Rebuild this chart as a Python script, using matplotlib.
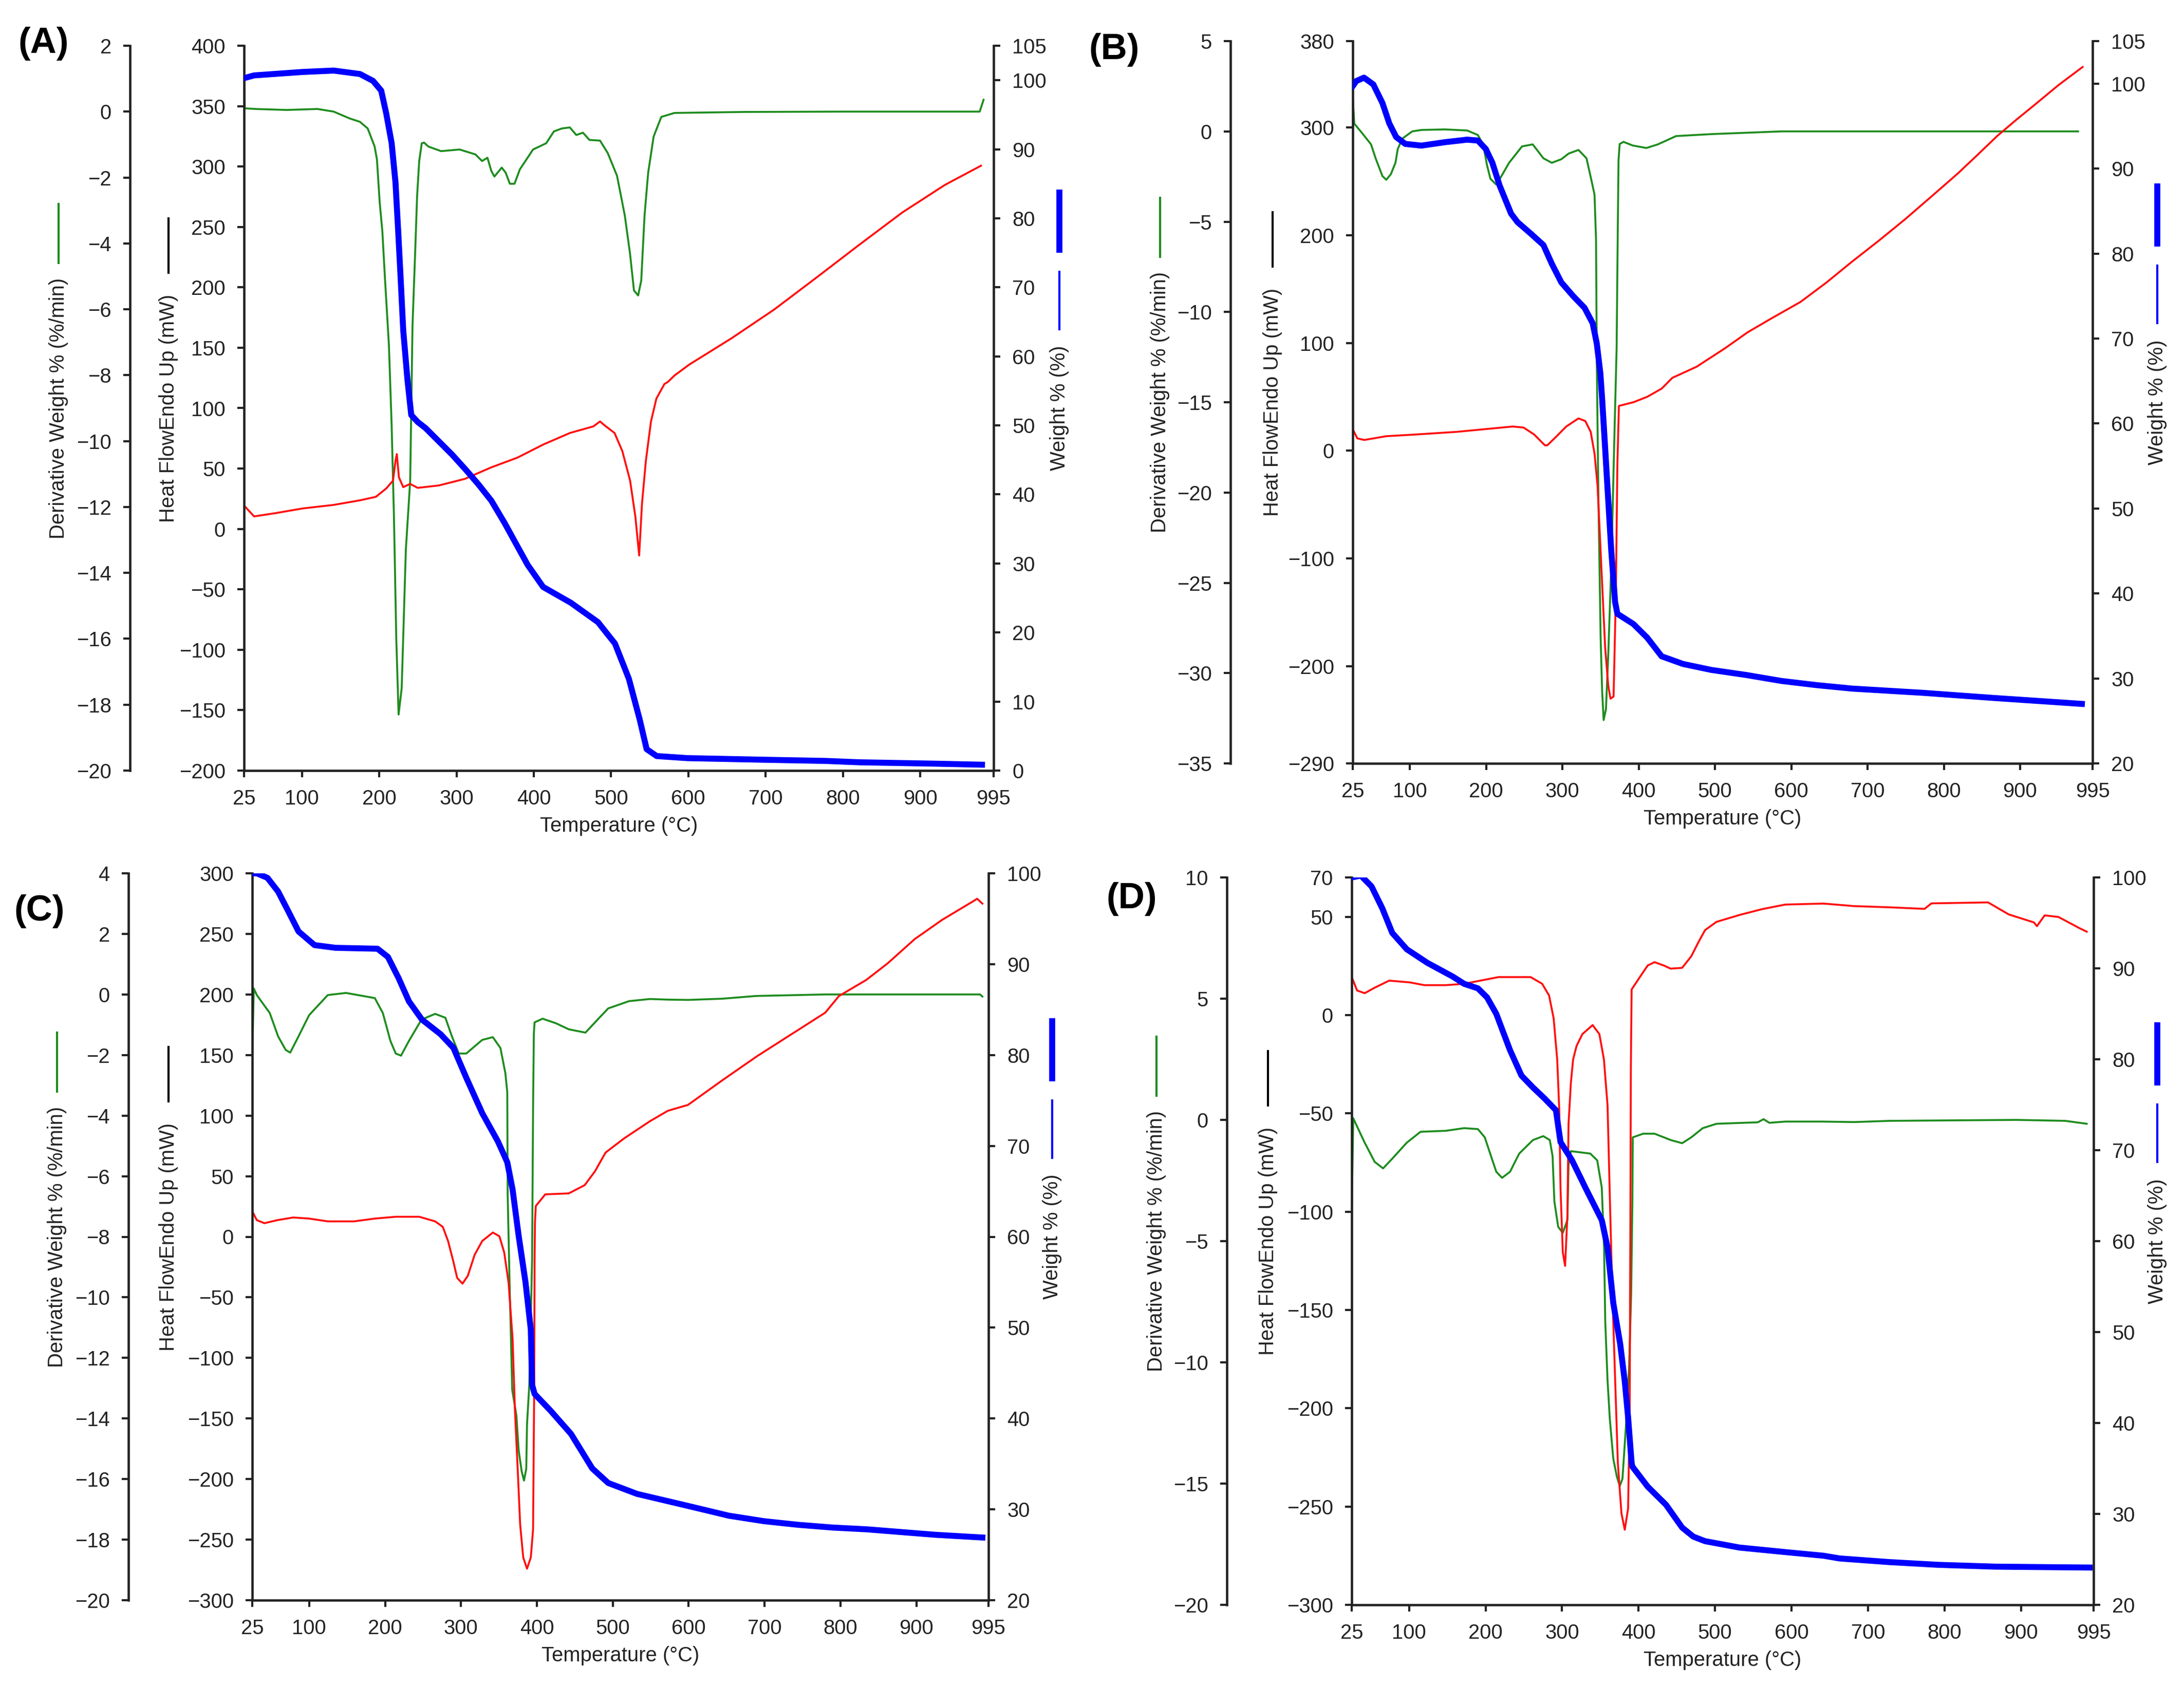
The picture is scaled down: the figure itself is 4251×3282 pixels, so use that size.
import matplotlib
matplotlib.use("Agg")
import matplotlib.pyplot as plt
from matplotlib.lines import Line2D

plt.rcParams['font.family'] = ['Liberation Sans', 'DejaVu Sans']

GREEN = '#1e8c1e'
RED = '#ff1010'
BLUE = '#0000ff'
AXIS = '#222222'

temp_ticks = [25, 100, 200, 300, 400, 500, 600, 700, 800, 900, 995]

# ---- panel A ----
a_deriv_t = [25, 26, 40, 80, 120, 141, 162, 175, 185, 194, 197, 200.5, 204, 207.5, 212.5, 216, 219, 222,
             225, 229, 234.4, 240, 243, 246.5, 249, 251.7, 255, 258, 263.5, 280, 304, 324.5, 333, 340,
             345, 349, 358.5, 363.5, 369, 375, 382, 399, 416, 426, 436.5, 446.6, 455, 463.6, 472,
             485.7, 495.7, 507.7, 517.7, 524.6, 529.6, 535, 539, 543.3, 548, 555, 565, 582, 673, 800,
             977, 982]
a_deriv = [1.4, 0.1, 0.08, 0.05, 0.08, 0.0, -0.21, -0.31, -0.51, -1.06, -1.45, -2.74, -3.64, -5.12, -7.1,
           -9.5, -12.3, -16.0, -18.3, -17.5, -13.3, -11.2, -6.5, -4.24, -2.55, -1.5, -0.96, -0.94, -1.06,
           -1.2, -1.15, -1.3, -1.5, -1.4, -1.8, -1.97, -1.7, -1.85, -2.19, -2.19, -1.75, -1.15, -0.96,
           -0.6, -0.51, -0.48, -0.71, -0.64, -0.86, -0.88, -1.26, -1.95, -3.15, -4.33, -5.43, -5.58,
           -5.13, -3.15, -1.85, -0.76, -0.16, -0.04, -0.01, 0.0, 0.0, 0.36]
a_heat_t = [25, 38, 65, 101, 141, 175, 195.6, 209, 217.8, 221, 222.7, 225.4, 231, 240, 249.7, 277, 311,
            345, 378.7, 412.6, 446.6, 477, 485.7, 490.7, 504.5, 514.5, 524.6, 531.4, 536.3, 540, 545,
            551.6, 558.6, 569, 573.5, 582, 601, 656, 711, 766, 821.5, 876.7, 932, 978.7]
a_heat = [19.4, 10.4, 13, 17, 19.9, 23.7, 26.6, 33.5, 40, 56.4, 62, 42.8, 34.6, 37.3, 34, 36, 41.5, 51,
          59, 70, 79.4, 84.9, 89, 86.2, 79.4, 64.5, 40, 10.2, -22, 21, 56.4, 89, 107.9, 120, 121.7, 127,
          136, 157.9, 181.6, 208.2, 235.4, 261.9, 284.8, 300.7]
a_wt_t = [25, 38, 101, 141, 175, 192, 202.5, 209, 216, 221, 224.5, 227.8, 231, 236.4, 241.4, 249.7, 260,
          277, 294, 311, 328, 345, 362, 378.7, 392, 412, 448, 483, 505, 523, 537, 546, 559, 599, 706,
          777, 821, 919, 980]
a_wt = [100.3, 100.7, 101.2, 101.4, 100.9, 99.9, 98.5, 95.2, 90.9, 85.2, 78.1, 71, 63.8, 56.7, 51.5, 50.5,
        49.6, 47.7, 45.8, 43.7, 41.5, 39.1, 35.9, 32.5, 29.8, 26.6, 24.3, 21.5, 18.4, 13.3, 7.4, 3.1, 2.1,
        1.8, 1.55, 1.4, 1.2, 1.0, 0.85]

# ---- panel B ----
b_deriv_t = [25, 27, 37, 49, 55, 64, 69, 75, 81, 84, 90, 103, 115, 146, 175, 189, 196, 201, 205.5, 213,
             218, 230, 247, 261, 275, 286, 298.6, 308, 321, 331.5, 337.5, 342, 344, 345, 347, 350, 352,
             354, 357, 360, 364, 368, 371, 372.5, 373.5, 375, 380, 392, 410, 425, 449, 496, 587, 976]
b_deriv = [1.96, 0.43, -0.08, -0.72, -1.49, -2.48, -2.68, -2.37, -1.74, -0.98, -0.4, 0.0, 0.08, 0.11,
           0.05, -0.2, -0.72, -1.86, -2.62, -2.94, -2.62, -1.74, -0.83, -0.72, -1.49, -1.74, -1.54, -1.23,
           -1.03, -1.49, -2.62, -3.5, -6.0, -12.8, -20, -28, -31, -32.6, -32, -29, -24, -17, -12, -5.5,
           -1.6, -0.7, -0.58, -0.78, -0.92, -0.72, -0.26, -0.15, 0.0, 0.0]
b_heat_t = [25, 31, 40, 69, 106, 161, 198, 235, 249, 263, 277, 280, 291, 305, 321, 330, 337, 342, 346,
            351, 356, 360, 363, 367, 370, 372, 374, 393, 411, 430, 444, 476, 513, 543, 577, 612, 646,
            680, 715, 749, 784, 818, 845, 870, 895, 921, 950, 982]
b_heat = [20, 11.5, 10, 13.5, 15, 17.5, 20, 22.5, 21.5, 15, 5, 5, 12.5, 22.5, 30, 27.5, 17.5, -2.5, -32.6,
          -108, -183, -218, -230, -228, -133, -12.5, 41.6, 45, 50, 57.6, 67.6, 78, 95, 110, 124, 138,
          156, 175.6, 195, 214.6, 236, 257, 275, 292, 307, 322, 339, 356]
b_wt_t = [25, 29.7, 39.8, 52, 64, 73, 82, 94, 115, 145.6, 175, 189, 199.5, 208, 217.6, 232.6, 241, 259,
          275, 286, 298.5, 314, 329, 339.6, 345, 349.7, 352, 356, 360, 364, 369, 372, 393, 411, 430, 458,
          495, 541, 587, 634, 680, 773, 865, 981]
b_wt = [99.7, 100.3, 100.7, 99.9, 97.7, 95.3, 93.7, 92.9, 92.7, 93.1, 93.4, 93.3, 92.3, 90.7, 88, 84.7,
        83.7, 82.3, 81, 78.8, 76.6, 75, 73.6, 71.8, 69.4, 65.9, 62.9, 57, 51, 45, 39, 37.6, 36.4, 34.8,
        32.6, 31.7, 31, 30.4, 29.7, 29.2, 28.8, 28.3, 27.7, 27]

# ---- panel C ----
c_deriv_t = [25, 27, 31, 48, 59, 69, 75, 83, 100, 124.5, 148.5, 186.5, 197, 207, 214, 221, 231.5, 248,
             266, 279.5, 288, 297, 307, 328, 342, 352, 358.5, 361, 361.5, 364, 367.5, 373, 376, 380, 383,
             386, 387, 390, 393.7, 395, 396, 397, 407.5, 425, 442, 464, 480, 494, 521.5, 549, 572.6, 599,
             644, 689, 780, 984, 987]
c_deriv = [-2.1, 0.2, -0.02, -0.61, -1.38, -1.83, -1.92, -1.53, -0.68, -0.02, 0.05, -0.12, -0.61, -1.53,
           -1.95, -2.02, -1.53, -0.83, -0.64, -0.77, -1.38, -1.95, -1.95, -1.5, -1.41, -1.77, -2.6, -3.23,
           -6.6, -9.5, -13.05, -13.9, -15.05, -15.75, -16.05, -15.66, -14.2, -12.9, -8.75, -3.75, -1.3,
           -0.92, -0.8, -0.95, -1.15, -1.26, -0.83, -0.46, -0.22, -0.15, -0.17, -0.18, -0.14, -0.05, 0.0,
           0.0, -0.07]
c_heat_t = [25, 31, 41, 58, 79, 100, 124.5, 159, 186.5, 214, 245, 266, 276, 283, 290, 295, 302, 309, 318,
            328, 342, 350.6, 357, 362.7, 368, 371, 375, 378, 382, 387, 392, 395, 396.5, 397, 397.5,
            398.6, 411, 442, 463, 476.5, 490.5, 514.5, 549, 572.6, 599, 644, 690, 735, 780, 798, 834,
            862, 898, 934, 975, 980, 987]
c_heat = [21, 13.7, 11.2, 13.7, 15.9, 15, 12.7, 12.7, 15, 16.5, 16.5, 12.7, 8.2, -3.5, -20.6, -34, -38.7,
          -32.2, -14.9, -3.5, 3.5, 0.4, -13, -38, -84.2, -141.8, -195.6, -237.7, -264.7, -274, -264.7,
          -241.6, -122.4, -20, 12, 25.4, 35, 35.8, 42.6, 54, 69.5, 81, 95.4, 104, 108.8, 129, 149, 167,
          185, 198.7, 212, 225.6, 245.8, 261.6, 277, 279, 275]
c_wt_t = [25, 31, 45, 59, 72, 86, 107, 134.7, 190, 203.7, 217.6, 231.5, 248.6, 273, 290, 307, 328, 348.6,
          361, 368, 376, 385, 392, 393.7, 397, 417.6, 445, 473, 494, 532, 572.6, 608, 653, 699, 744, 789,
          835, 880, 925, 987]
c_wt = [100, 100, 99.5, 98, 95.9, 93.6, 92.1, 91.8, 91.7, 90.8, 88.5, 85.9, 83.9, 82.3, 80.8, 77.5, 73.6,
        70.5, 68.2, 65.2, 60.1, 55, 49.8, 43.7, 42.7, 40.9, 38.3, 34.5, 32.9, 31.7, 30.9, 30.2, 29.3,
        28.7, 28.3, 28, 27.8, 27.5, 27.2, 26.9]

# ---- panel D ----
d_deriv_t = [25, 27, 32, 42, 55, 66, 78, 97, 115, 148, 172, 190, 199, 205, 214, 221.6, 232, 244, 262,
             275.5, 284, 287.6, 290, 295, 301, 307, 308.5, 311.6, 322, 337, 346, 352, 355, 356.5, 359.5,
             362.5, 367, 371.6, 375.5, 379, 383.5, 387.7, 390.4, 392, 392.5, 406, 421, 442, 457, 469, 484,
             502, 556, 563.5, 571, 592, 640, 682, 728, 894, 958, 986]
d_deriv = [-3.9, 0.07, -0.27, -0.94, -1.73, -2.0, -1.6, -0.94, -0.49, -0.45, -0.34, -0.38, -0.72, -1.29,
           -2.14, -2.39, -2.14, -1.39, -0.83, -0.67, -0.83, -1.49, -3.37, -4.41, -4.66, -4.13, -1.86,
           -1.29, -1.33, -1.39, -1.67, -2.8, -5.27, -8.3, -10.75, -12.35, -13.97, -14.7, -15.1, -14.8,
           -12.65, -10.2, -7.16, -3.37, -0.72, -0.57, -0.57, -0.83, -0.96, -0.72, -0.34, -0.16, -0.1,
           0.03, -0.12, -0.07, -0.07, -0.09, -0.04, 0.0, -0.04, -0.16]
d_heat_t = [25, 32, 42, 55, 74, 101, 120, 148, 172, 217, 259, 274, 283, 289, 293.7, 296.4, 298, 301, 304,
            307, 308.5, 311.6, 314.5, 319, 326.6, 340, 348.8, 354.8, 359.5, 362.5, 365.6, 368.5, 373,
            377.7, 382, 386.4, 388.5, 389.5, 390, 391, 400, 412, 421, 433, 442, 457, 469, 478, 487, 502,
            532, 562, 592, 642, 682, 728, 774, 783, 857, 884, 917, 921, 931, 949, 976, 986]
d_heat = [19.4, 12.5, 11.1, 13.9, 17.5, 16.6, 15.2, 15.2, 15.9, 19.3, 19.3, 15.9, 10, -1.6, -22.6, -48.4,
          -88, -120.6, -127.6, -102, -55.3, -34.3, -22.6, -15.7, -9.7, -5.1, -9.7, -22.6, -46, -92.5,
          -139, -174, -228, -253.5, -261.8, -251, -200, -90, -27, 13, 18.3, 25.2, 26.9, 25.2, 23.6, 24,
          29.9, 36.8, 43.2, 47.4, 50.9, 53.9, 56.2, 56.7, 55.4, 54.8, 54, 56.8, 57.3, 51.2, 47.1, 45.2,
          50.7, 49.9, 44.3, 42.4]
d_wt_t = [25, 37, 51, 65, 78, 97, 124, 157, 172, 190, 202, 214, 232, 247, 262, 277, 292, 298, 313, 331,
          352, 359.5, 367, 376, 382, 386.4, 391, 392, 412, 436, 457, 471.7, 487, 532, 592, 642, 663, 728,
          792, 866, 990]
d_wt = [100, 100.2, 99, 96.6, 93.9, 92.1, 90.6, 89.1, 88.3, 87.8, 86.8, 85, 81, 78.2, 76.9, 75.7, 74.4,
        70.9, 68.9, 65.8, 62.3, 59.3, 53.2, 48.7, 44.6, 40.6, 35.6, 35.2, 33, 31, 28.5, 27.5, 27, 26.3,
        25.8, 25.4, 25.1, 24.7, 24.4, 24.2, 24.1]

# axis ticks
a_heat_ticks = list(range(-200, 401, 50))
a_deriv_ticks = list(range(-20, 3, 2))
a_wt_ticks = list(range(0, 101, 10)) + [105]
b_heat_ticks = [-290, -200, -100, 0, 100, 200, 300, 380]
b_deriv_ticks = list(range(-35, 6, 5))
b_wt_ticks = list(range(20, 101, 10)) + [105]
c_heat_ticks = list(range(-300, 301, 50))
c_deriv_ticks = list(range(-20, 5, 2))
c_wt_ticks = list(range(20, 101, 10))
d_heat_ticks = list(range(-300, 51, 50)) + [70]
d_deriv_ticks = list(range(-20, 11, 5))
d_wt_ticks = list(range(20, 101, 10))

W, H = 4251, 3282
fig = plt.figure(figsize=(W / 300, H / 300), dpi=300)

panels = [
    dict(tag='(A)', tag_xy=(85, 85), box=(475, 89, 1934, 1500), dspine=253, labx=(114, 328, 2062),
         deriv=(a_deriv_t, a_deriv), heat=(a_heat_t, a_heat), wt=(a_wt_t, a_wt),
         hlim=(-200, 400), dlim=(-20, 2), wlim=(0, 105),
         hticks=a_heat_ticks, dticks=a_deriv_ticks, wticks=a_wt_ticks),
    dict(tag='(B)', tag_xy=(2169, 97), box=(2633, 80, 4073, 1486), dspine=2395, labx=(2258, 2477, 4199),
         deriv=(b_deriv_t, b_deriv), heat=(b_heat_t, b_heat), wt=(b_wt_t, b_wt),
         hlim=(-290, 380), dlim=(-35, 5), wlim=(20, 105),
         hticks=b_heat_ticks, dticks=b_deriv_ticks, wticks=b_wt_ticks),
    dict(tag='(C)', tag_xy=(77, 1774), box=(491, 1700, 1924, 3115), dspine=250, labx=(111, 328, 2048),
         deriv=(c_deriv_t, c_deriv), heat=(c_heat_t, c_heat), wt=(c_wt_t, c_wt),
         hlim=(-300, 300), dlim=(-20, 4), wlim=(20, 100),
         hticks=c_heat_ticks, dticks=c_deriv_ticks, wticks=c_wt_ticks),
    dict(tag='(D)', tag_xy=(2203, 1750), box=(2631, 1708, 4075, 3124), dspine=2388, labx=(2251, 2468, 4199),
         deriv=(d_deriv_t, d_deriv), heat=(d_heat_t, d_heat), wt=(d_wt_t, d_wt),
         hlim=(-300, 70), dlim=(-20, 10), wlim=(20, 100),
         hticks=d_heat_ticks, dticks=d_deriv_ticks, wticks=d_wt_ticks),
]

FS = 9.6


def fx(x):
    return x / W


def fy(y):
    return 1 - y / H


def style_ticks(a, axis):
    a.tick_params(axis=axis, direction='out', length=3.2, width=1.0, pad=5.5,
                  labelsize=FS, colors=AXIS)


def vseg(x, y_a, y_b, color, lw):
    fig.add_artist(Line2D([fx(x), fx(x)], [fy(y_a), fy(y_b)], color=color, lw=lw,
                          solid_capstyle='butt'))


def draw_panel(p):
    x0, y0, x1, y1 = p['box']
    ax = fig.add_axes([fx(x0), fy(y1), (x1 - x0) / W, (y1 - y0) / H])
    ax_d = ax.twinx()
    ax_w = ax.twinx()
    ax.set_zorder(2)
    ax_d.set_zorder(1)
    ax_w.set_zorder(3)
    ax.patch.set_visible(False)

    ax.plot(*p['heat'], color=RED, lw=0.9)
    ax_d.plot(*p['deriv'], color=GREEN, lw=0.9)
    ax_w.plot(*p['wt'], color=BLUE, lw=2.8)

    ax.set_xlim(25, 995)
    ax.set_xticks(temp_ticks)
    ax.set_ylim(*p['hlim'])
    ax.set_yticks(p['hticks'])
    ax_d.set_ylim(*p['dlim'])
    ax_d.set_yticks(p['dticks'])
    ax_w.set_ylim(*p['wlim'])
    ax_w.set_yticks(p['wticks'])

    for s in ('top', 'right'):
        ax.spines[s].set_visible(False)
    for s in ('top', 'right', 'bottom'):
        ax_d.spines[s].set_visible(False)
    for s in ('top', 'left', 'bottom'):
        ax_w.spines[s].set_visible(False)
    ax_d.yaxis.tick_left()
    ax_d.spines['left'].set_visible(True)
    ax_d.spines['left'].set_position(('axes', (p['dspine'] - x0) / (x1 - x0)))
    for a in (ax, ax_d, ax_w):
        for s in a.spines.values():
            s.set_linewidth(1.1)
            s.set_color(AXIS)
    style_ticks(ax, 'both')
    style_ticks(ax_d, 'y')
    style_ticks(ax_w, 'y')

    # axis titles with their little series keys
    yc = (y0 + y1) / 2
    lx_d, lx_h, lx_w = p['labx']
    fig.text(fx(lx_d), fy(yc), 'Derivative Weight % (%/min)', rotation=90, ha='center', va='center',
             fontsize=FS, color=AXIS)
    fig.text(fx(lx_h), fy(yc), 'Heat FlowEndo Up (mW)', rotation=90, ha='center', va='center',
             fontsize=FS, color=AXIS)
    fig.text(fx(lx_w), fy(yc), 'Weight % (%)', rotation=90, ha='center', va='center',
             fontsize=FS, color=AXIS)
    vseg(lx_d, yc - 400, yc - 281, GREEN, 1.0)
    vseg(lx_h, yc - 372, yc - 262, 'black', 1.0)
    vseg(lx_w, yc - 426, yc - 303, BLUE, 2.8)
    vseg(lx_w, yc - 268, yc - 152, BLUE, 1.0)

    fig.text(fx((x0 + x1) / 2), fy(y1 + 108), 'Temperature (°C)', ha='center', va='center',
             fontsize=FS, color=AXIS)
    fig.text(fx(p['tag_xy'][0]), fy(p['tag_xy'][1]), p['tag'], ha='center', va='center',
             fontsize=17, fontweight='bold', color='black')


for p in panels:
    draw_panel(p)

fig.savefig('out.png', dpi=300, facecolor='white')
